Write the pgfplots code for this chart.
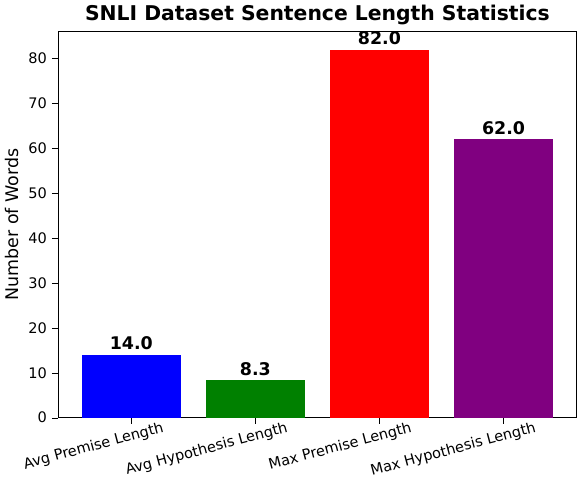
\documentclass[border=0pt]{standalone}
\usepackage{pgfplots}
\pgfplotsset{compat=1.18}
\usepackage{fontspec}
\setmainfont{DejaVu Sans}
\definecolor{mgreen}{RGB}{0,128,0}
\definecolor{mpurple}{RGB}{128,0,128}
\begin{document}
\begin{tikzpicture}
\begin{axis}[
  scale only axis, width=357pt, height=266pt,
  xmin=-0.59, xmax=3.59, ymin=0, ymax=86.1,
  ybar, bar width=0.8, bar shift=0pt,
  xtick={0,1,2,3},
  xticklabels={Avg Premise Length,Avg Hypothesis Length,Max Premise Length,Max Hypothesis Length},
  xticklabel style={rotate=15, anchor=north east, xshift=24pt, font=\fontsize{10}{12}\selectfont},
  yticklabel style={font=\fontsize{10}{12}\selectfont},
  ytick={0,10,...,80},
  /pgf/number format/assume math mode=true,
  tick align=outside, tick style={black}, xtick pos=bottom, ytick pos=left,
  ylabel={Number of Words}, ylabel style={font=\fontsize{12}{14}\selectfont},
  title={\textbf{SNLI Dataset Sentence Length Statistics}},
  title style={font=\fontsize{14}{16}\selectfont, yshift=-5pt},
  nodes near coords, point meta=explicit symbolic,
  every node near coord/.append style={font=\bfseries\fontsize{12}{14}\selectfont, black},
]
\addplot[fill=blue, draw=none] coordinates {(0,14.0) [14.0]};
\addplot[fill=mgreen, draw=none] coordinates {(1,8.3) [8.3]};
\addplot[fill=red, draw=none] coordinates {(2,82.0) [82.0]};
\addplot[fill=mpurple, draw=none] coordinates {(3,62.0) [62.0]};
\end{axis}
\end{tikzpicture}
\end{document}
